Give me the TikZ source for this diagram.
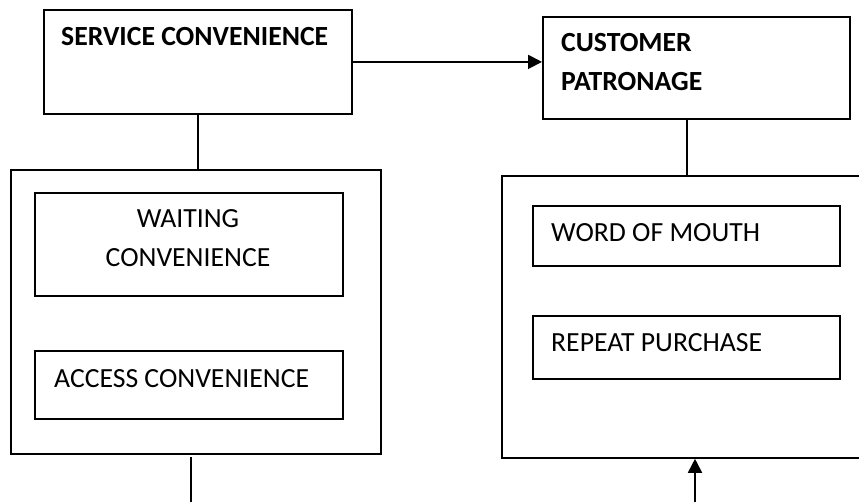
\documentclass[tikz,border=0pt]{standalone}
\usepackage{fontspec}
\setmainfont{Carlito}
\usetikzlibrary{arrows.meta}
\begin{document}
\begin{tikzpicture}[x=1pt,y=-1pt,
  box/.style={draw=black,line width=1.8pt,rectangle,inner sep=0pt,anchor=north west},
  lbl/.style={inner sep=0pt,anchor=base west,font=\fontsize{27.7}{32}\selectfont},
  blbl/.style={lbl,font=\fontsize{27.7}{32}\selectfont\bfseries},
  conn/.style={line width=1.8pt},
  arr/.style={conn,-{Triangle[length=14pt,width=14pt]}}]
\useasboundingbox (0,0) rectangle (859,502);
\clip (0,0) rectangle (859,502);
% boxes
\node[box,minimum width=308,minimum height=104] (svc) at (43,9) {};
\node[box,minimum width=307,minimum height=102] (cust) at (542,16) {};
\node[box,minimum width=370,minimum height=284] (lbox) at (10,169) {};
\node[box,minimum width=308,minimum height=103] (wait) at (34,192) {};
\node[box,minimum width=308,minimum height=68] (acc) at (34,350) {};
\node[box,minimum width=379,minimum height=282] (rbox) at (501,175) {};
\node[box,minimum width=307,minimum height=60] (wom) at (532,205) {};
\node[box,minimum width=307,minimum height=63] (rep) at (532,315) {};
% texts
\node[blbl] (tsvc) at (61,46) {SERVICE CONVENIENCE};
\node[blbl] (tcust1) at (561,52) {CUSTOMER};
\node[blbl] (tcust2) at (561,91) {PATRONAGE};
\node[lbl,anchor=base] (twait1) at (188,228) {WAITING};
\node[lbl,anchor=base] (twait2) at (188,267) {CONVENIENCE};
\node[lbl] (tacc) at (54,387) {ACCESS CONVENIENCE};
\node[lbl] (twom) at (551,242) {WORD OF MOUTH};
\node[lbl] (trep) at (551,352) {REPEAT PURCHASE};
% connectors
\draw[arr] (svc.east) -- (svc.east -| cust.west);
\draw[conn] (svc.south) -- (svc.south |- lbox.north);
\coordinate (ct) at (687,118);
\draw[conn] (ct) -- (ct |- rbox.north);
\coordinate (lt) at (191,457);
\coordinate (lb) at (191,503);
\draw[conn] (lt) -- (lb);
\coordinate (rb) at (695,503);
\draw[arr] (rb) -- (rb |- rbox.south);
\end{tikzpicture}
\end{document}
